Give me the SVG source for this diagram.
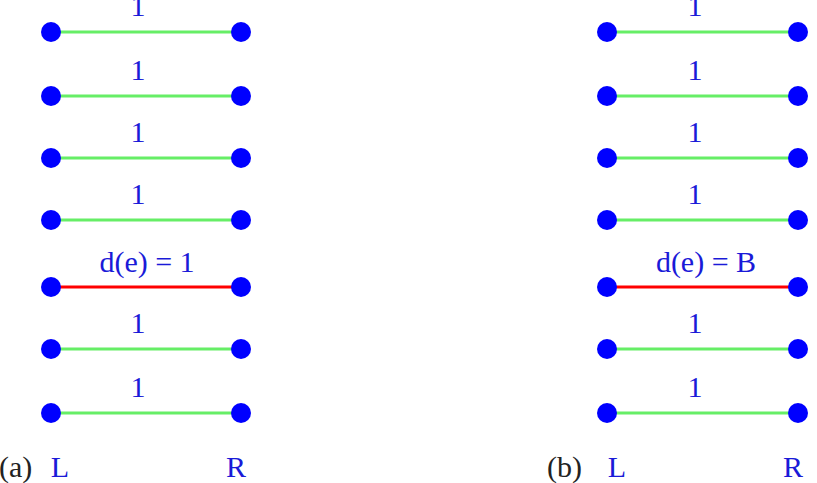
<svg xmlns="http://www.w3.org/2000/svg" width="817" height="483" viewBox="0 0 817 483">
<style>
.n{fill:#0000ff}
.g{stroke:#66ee66;stroke-width:3}
.r{stroke:#ff0000;stroke-width:3}
text{font-family:'Liberation Serif','DejaVu Serif',serif;font-size:30px}
.t{fill:#1a1ad8;text-anchor:middle}
.k{fill:#222}
</style>
<rect width="817" height="483" fill="#fff"/>
<g id="connectors">
<line class="g" x1="51" y1="32" x2="241" y2="32"/>
<line class="g" x1="51" y1="96" x2="241" y2="96"/>
<line class="g" x1="51" y1="158" x2="241" y2="158"/>
<line class="g" x1="51" y1="220" x2="241" y2="220"/>
<line class="r" x1="51" y1="287" x2="241" y2="287"/>
<line class="g" x1="51" y1="349" x2="241" y2="349"/>
<line class="g" x1="51" y1="413" x2="241" y2="413"/>
<line class="g" x1="607" y1="32" x2="798" y2="32"/>
<line class="g" x1="607" y1="96" x2="798" y2="96"/>
<line class="g" x1="607" y1="158" x2="798" y2="158"/>
<line class="g" x1="607" y1="220" x2="798" y2="220"/>
<line class="r" x1="607" y1="287" x2="798" y2="287"/>
<line class="g" x1="607" y1="349" x2="798" y2="349"/>
<line class="g" x1="607" y1="413" x2="798" y2="413"/>
</g>
<g id="edge-labels">
<text class="t" x="138" y="16">1</text>
<text class="t" x="138" y="80">1</text>
<text class="t" x="138" y="142">1</text>
<text class="t" x="138" y="204">1</text>
<text class="t" x="147" y="272">d(e) = 1</text>
<text class="t" x="138" y="333">1</text>
<text class="t" x="138" y="397">1</text>
<text class="t" x="695" y="16">1</text>
<text class="t" x="695" y="80">1</text>
<text class="t" x="695" y="142">1</text>
<text class="t" x="695" y="204">1</text>
<text class="t" x="706" y="272">d(e) = B</text>
<text class="t" x="695" y="333">1</text>
<text class="t" x="695" y="397">1</text>
</g>
<g id="nodes-a">
<g id="aL1"><circle class="n" cx="51" cy="32" r="10"/></g>
<g id="aR1"><circle class="n" cx="241" cy="32" r="10"/></g>
<g id="aL2"><circle class="n" cx="51" cy="96" r="10"/></g>
<g id="aR2"><circle class="n" cx="241" cy="96" r="10"/></g>
<g id="aL3"><circle class="n" cx="51" cy="158" r="10"/></g>
<g id="aR3"><circle class="n" cx="241" cy="158" r="10"/></g>
<g id="aL4"><circle class="n" cx="51" cy="220" r="10"/></g>
<g id="aR4"><circle class="n" cx="241" cy="220" r="10"/></g>
<g id="aL5"><circle class="n" cx="51" cy="287" r="10"/></g>
<g id="aR5"><circle class="n" cx="241" cy="287" r="10"/></g>
<g id="aL6"><circle class="n" cx="51" cy="349" r="10"/></g>
<g id="aR6"><circle class="n" cx="241" cy="349" r="10"/></g>
<g id="aL7"><circle class="n" cx="51" cy="413" r="10"/></g>
<g id="aR7"><circle class="n" cx="241" cy="413" r="10"/></g>
</g>
<g id="nodes-b">
<g id="bL1"><circle class="n" cx="607" cy="32" r="10"/></g>
<g id="bR1"><circle class="n" cx="798" cy="32" r="10"/></g>
<g id="bL2"><circle class="n" cx="607" cy="96" r="10"/></g>
<g id="bR2"><circle class="n" cx="798" cy="96" r="10"/></g>
<g id="bL3"><circle class="n" cx="607" cy="158" r="10"/></g>
<g id="bR3"><circle class="n" cx="798" cy="158" r="10"/></g>
<g id="bL4"><circle class="n" cx="607" cy="220" r="10"/></g>
<g id="bR4"><circle class="n" cx="798" cy="220" r="10"/></g>
<g id="bL5"><circle class="n" cx="607" cy="287" r="10"/></g>
<g id="bR5"><circle class="n" cx="798" cy="287" r="10"/></g>
<g id="bL6"><circle class="n" cx="607" cy="349" r="10"/></g>
<g id="bR6"><circle class="n" cx="798" cy="349" r="10"/></g>
<g id="bL7"><circle class="n" cx="607" cy="413" r="10"/></g>
<g id="bR7"><circle class="n" cx="798" cy="413" r="10"/></g>
</g>
<g id="captions">
<text class="k" x="-1" y="477">(a)</text>
<text class="t" x="60" y="477">L</text>
<text class="t" x="236" y="477">R</text>
<text class="k" x="547" y="477">(b)</text>
<text class="t" x="617" y="477">L</text>
<text class="t" x="793" y="477">R</text>
</g>
</svg>
